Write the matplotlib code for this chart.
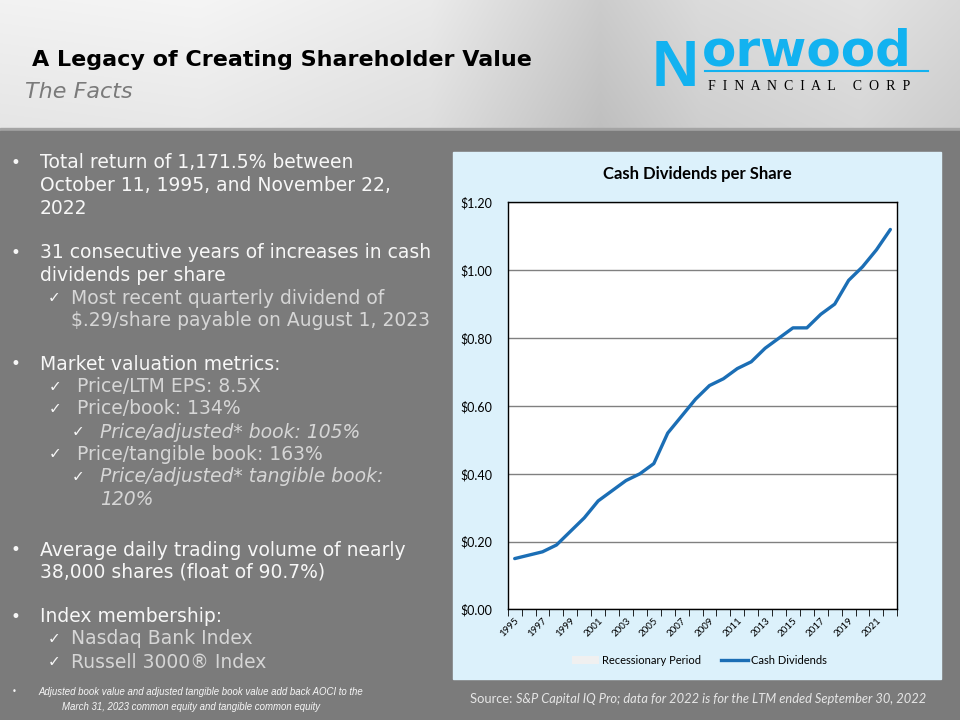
import numpy as np
import matplotlib
matplotlib.use('Agg')
import matplotlib.pyplot as plt
from matplotlib.patches import Rectangle, Patch
from matplotlib.lines import Line2D

# chart data
years = [str(y) for y in range(1995, 2023)]
dividends = [0.15, 0.16, 0.17, 0.19, 0.23, 0.27, 0.32, 0.35, 0.38, 0.40,
             0.43, 0.52, 0.57, 0.62, 0.66, 0.68, 0.71, 0.73, 0.77, 0.80,
             0.83, 0.83, 0.87, 0.90, 0.97, 1.01, 1.06, 1.12]
y_ticks = [0.0, 0.2, 0.4, 0.6, 0.8, 1.0, 1.2]
y_labels = ['$0.00', '$0.20', '$0.40', '$0.60', '$0.80', '$1.00', '$1.20']

title = 'A Legacy of Creating Shareholder Value'
subtitle = 'The Facts'
chart_title = 'Cash Dividends per Share'
source_note = 'S&P Capital IQ Pro; data for 2022 is for the LTM ended September 30, 2022'
footnote = ['Adjusted book value and adjusted tangible book value add back AOCI to the',
            'March 31, 2023 common equity and tangible common equity']

WHITE = '#f7f7f7'
LIGHT = '#d6d6d6'
BODY = '#7b7b7b'
BLUE = '#1b6eb5'

fig = plt.figure(figsize=(9.6, 7.2), dpi=100)

# background in pixel coords
bg = fig.add_axes([0, 0, 1, 1], zorder=0)
bg.axis('off')

# header gradient
gx = np.arange(960)
base = np.interp(gx, [0, 200, 430, 600, 700, 860, 960],
                 [0.95, 0.96, 0.92, 0.80, 0.86, 0.89, 0.85])
gy = np.linspace(0, 1, 129)[:, None]
shade = base[None, :] - 0.05 * gy
img = np.dstack([shade, shade, shade])
bg.imshow(img, extent=(0, 960, 129, 0), aspect='auto', zorder=0)
bg.add_patch(Rectangle((0, 128), 960, 3, color='#a4a4a4', zorder=1))
bg.add_patch(Rectangle((0, 131), 960, 589, color=BODY, zorder=1))
bg.set_xlim(0, 960)
bg.set_ylim(720, 0)

# chart panel
bg.add_patch(Rectangle((453, 152), 488, 527, color='#dcf1fb', zorder=2))

# header text
bg.text(32, 60, title, fontsize=16, fontweight='bold', color='black',
        family='DejaVu Sans', va='center', ha='left', zorder=3)
bg.text(25, 92, subtitle, fontsize=16, style='italic', color='#7a7a7a',
        family='DejaVu Sans', va='center', ha='left', zorder=3)

# logo
bg.text(652, 86, 'N', fontsize=47, fontweight='bold', color='#12b2f0',
        family='Liberation Sans', va='baseline', ha='left', zorder=3)
bg.text(702, 66, 'orwood', fontsize=36, fontweight='bold', color='#12b2f0',
        family='DejaVu Sans', va='baseline', ha='left', zorder=3)
bg.plot([705, 928], [71, 71], color='#12b2f0', lw=1.5, zorder=3)
bg.text(708, 86, 'F  I  N  A  N  C  I  A  L     C  O  R  P', fontsize=10,
        color='black', family='Liberation Serif', va='center', ha='left', zorder=3)

# left bullet text
def bullet(y, lines):
    bg.text(15, y, '•', fontsize=12, color=WHITE, va='center', ha='center', zorder=3)
    for i, s in enumerate(lines):
        bg.text(40, y + i * 22.5, s, fontsize=13.5, color=WHITE, family='DejaVu Sans',
                va='center', ha='left', zorder=3)

def check(xc, xt, y, lines, italic=False):
    bg.text(xc, y, '✓', fontsize=11, color=WHITE, family='DejaVu Sans',
            va='center', ha='center', zorder=3)
    for i, s in enumerate(lines):
        bg.text(xt, y + i * 22.5, s, fontsize=13.5, color=LIGHT, family='DejaVu Sans',
                style='italic' if italic else 'normal', va='center', ha='left', zorder=3)

bullet(163, ['Total return of 1,171.5% between', 'October 11, 1995, and November 22,', '2022'])
bullet(253, ['31 consecutive years of increases in cash', 'dividends per share'])
check(54, 71, 298, ['Most recent quarterly dividend of', '$.29/share payable on August 1, 2023'])
bullet(364, ['Market valuation metrics:'])
check(55, 77, 387, ['Price/LTM EPS: 8.5X'])
check(55, 77, 409, ['Price/book: 134%'])
check(78, 100, 432, ['Price/adjusted* book: 105%'], italic=True)
check(55, 77, 454, ['Price/tangible book: 163%'])
check(78, 100, 477, ['Price/adjusted* tangible book:', '120%'], italic=True)
bullet(550, ['Average daily trading volume of nearly', '38,000 shares (float of 90.7%)'])
bullet(617, ['Index membership:'])
check(54, 71, 639, ['Nasdaq Bank Index'])
check(54, 71, 662, ['Russell 3000® Index'])

# footnote and source
bg.text(14, 692, '•', fontsize=6, color=WHITE, va='center', ha='center', zorder=3)
bg.text(38, 692, footnote[0], fontsize=6.9, style='italic', color=WHITE,
        family='Liberation Sans', va='center', ha='left', zorder=3)
bg.text(62, 707, footnote[1], fontsize=6.9, style='italic', color=WHITE,
        family='Liberation Sans', va='center', ha='left', zorder=3)
src = bg.text(470, 699, 'Source: ', fontsize=9.3, color='#e6e6e6',
              family='Lato', va='center', ha='left', zorder=3)
bg.annotate(source_note, xy=(1, 0.5), xycoords=src, fontsize=9.3, style='italic',
            color='#e6e6e6', family='Lato', va='center', ha='left', zorder=3)

# chart
ax = fig.add_axes([0.5289, 0.1535, 0.4058, 0.5655], zorder=2)
x = np.arange(len(years))
ax.plot(x, dividends, color=BLUE, lw=2.4, solid_capstyle='round',
        solid_joinstyle='round', zorder=3)
ax.set_xlim(-0.5, len(years) - 0.5)
ax.set_ylim(0, 1.2)
ax.set_facecolor('white')
ax.set_yticks(y_ticks)
ax.set_yticklabels(y_labels, family='Lato', fontsize=9)
ax.yaxis.grid(True, color='#808080', lw=1)
ax.set_axisbelow(True)
ax.tick_params(axis='y', length=0, pad=11)
ax.set_xticks(x[::2])
ax.set_xticklabels(years[::2], rotation=45, ha='right', rotation_mode='anchor',
                   family='Lato', fontsize=7)
ax.set_xticks(np.arange(-0.5, len(years)), minor=True)
ax.tick_params(axis='x', which='major', length=0, pad=5)
ax.tick_params(axis='x', which='minor', length=5, direction='out', color='black')
for sp in ax.spines.values():
    sp.set_color('black')
    sp.set_linewidth(1)

fig.text(697 / 960, 1 - 174 / 720, chart_title, fontsize=12, fontweight='bold',
         family='Lato', ha='center', va='center', color='black')

handles = [Patch(facecolor='#f0f0f0', edgecolor='none', label='Recessionary Period'),
           Line2D([0], [0], color=BLUE, lw=2.4, label='Cash Dividends')]
fig.legend(handles=handles, loc='center', bbox_to_anchor=(0.729, 1 - 660 / 720),
           ncol=2, frameon=False, prop={'family': 'Lato', 'size': 8},
           handlelength=2.4, handletextpad=0.3, columnspacing=1.8)

fig.savefig('out.png', dpi=100)
